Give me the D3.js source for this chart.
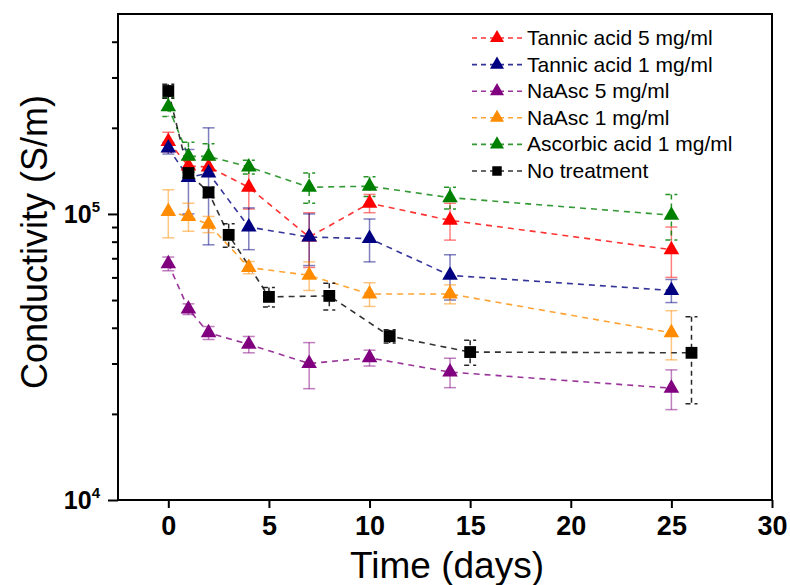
<!DOCTYPE html>
<html>
<head>
<meta charset="utf-8">
<title>Conductivity over time</title>
<script src="https://d3js.org/d3.v7.min.js"></script>
<style>
  body { margin: 0; background: #fff; }
  svg text { font-family: "Liberation Sans", Arial, sans-serif; }
  .tick-label { font-family: "Liberation Sans Narrow", "Arial Narrow", "Liberation Sans", sans-serif; font-weight: bold; }
</style>
</head>
<body>
<div id="chart"></div>
<script>
// days sampled
const daysTreated = [0, 1, 2, 4, 7, 10, 14, 25];
const daysControl = [0, 1, 2, 3, 5, 8, 11, 15, 26];

// conductivity (S/m) and error
const tannic5Val = [179000, 147000, 146000, 124000, 83000, 109000, 95000, 75000];
const tannic5Err = [14000, 7000, 8000, 20000, 18000, 8000, 14000, 15000];
const tannic1Val = [170000, 134000, 139000, 90000, 83000, 82000, 61000, 54000];
const tannic1Err = [8000, 34000, 61000, 15000, 17000, 14000, 11000, 5000];
const naasc5Val = [67000, 46500, 38400, 35000, 30000, 31400, 28000, 24600];
const naasc5Err = [3700, 2000, 2000, 2300, 5500, 2000, 3300, 3900];
const naasc1Val = [102000, 98000, 92000, 65000, 61000, 52500, 52500, 38400];
const naasc1Err = [19500, 11000, 6000, 3200, 7000, 5000, 4000, 7500];
const ascorbicVal = [237000, 159000, 159000, 146000, 124000, 125000, 114000, 99000];
const ascorbicErr = [18000, 19000, 17000, 8000, 15000, 10000, 10000, 18000];
const controlVal = [269000, 139000, 119000, 84500, 51300, 51700, 37400, 32900, 32700];
const controlErr = [15000, 5000, 5000, 8000, 4000, 5500, 2000, 3300, 11000];

const seriesNames = ["Tannic acid 5 mg/ml", "Tannic acid 1 mg/ml", "NaAsc 5 mg/ml",
  "NaAsc 1 mg/ml", "Ascorbic acid 1 mg/ml", "No treatment"];
const seriesColors = ["#ff0000", "#000080", "#800080", "#ff8c00", "#008000", "#000000"];

const xTicks = [0, 5, 10, 15, 20, 25, 30];
const yMajor = [1e4, 1e5];
const yMinor = [2e4, 3e4, 4e4, 5e4, 6e4, 7e4, 8e4, 9e4, 2e5, 3e5, 4e5];

const series = [
  { days: daysTreated, val: tannic5Val, err: tannic5Err, shape: d3.symbolTriangle, dashedErr: false },
  { days: daysTreated, val: tannic1Val, err: tannic1Err, shape: d3.symbolTriangle, dashedErr: false },
  { days: daysTreated, val: naasc5Val, err: naasc5Err, shape: d3.symbolTriangle, dashedErr: false },
  { days: daysTreated, val: naasc1Val, err: naasc1Err, shape: d3.symbolTriangle, dashedErr: false },
  { days: daysTreated, val: ascorbicVal, err: ascorbicErr, shape: d3.symbolTriangle, dashedErr: true },
  { days: daysControl, val: controlVal, err: controlErr, shape: d3.symbolSquare, dashedErr: true }
].map((s, i) => ({ ...s, name: seriesNames[i], color: seriesColors[i],
  points: s.days.map((d, j) => ({ t: d, v: s.val[j], e: s.err[j] })) }));

const W = 790, H = 585;
const plotLeft = 118, plotRight = 772, plotTop = 14, plotBottom = 500;

const svg = d3.select("#chart").append("svg")
  .attr("width", W).attr("height", H);

const x = d3.scaleLinear().domain([-2.5, 30]).range([plotLeft, plotRight]);
const y = d3.scaleLog().domain([1e4, 5e5]).range([plotBottom, plotTop]);

// x axis
const xAxis = svg.append("g")
  .attr("transform", `translate(0,${plotBottom})`)
  .call(d3.axisBottom(x).tickValues(xTicks).tickSize(8).tickPadding(8));
xAxis.select(".domain").remove();
xAxis.selectAll("line").attr("stroke-width", 2);
xAxis.selectAll("text").attr("class", "tick-label")
  .attr("font-size", 27).attr("fill", "#000");

// y axis, major and minor ticks
const yAxis = svg.append("g")
  .attr("transform", `translate(${plotLeft},0)`)
  .call(d3.axisLeft(y).tickValues(yMajor).tickSize(10).tickFormat(""));
yAxis.select(".domain").remove();
yAxis.selectAll("line").attr("stroke-width", 2);

const yMinorAxis = svg.append("g")
  .attr("transform", `translate(${plotLeft},0)`)
  .call(d3.axisLeft(y).tickValues(yMinor).tickSize(6).tickFormat(""));
yMinorAxis.select(".domain").remove();
yMinorAxis.selectAll("line").attr("stroke-width", 2);

// 10^n labels
yMajor.forEach(v => {
  const t = svg.append("text")
    .attr("class", "tick-label")
    .attr("x", 100).attr("y", y(v) + 9)
    .attr("text-anchor", "end")
    .attr("font-size", 25).attr("fill", "#000");
  t.append("tspan").text("10");
  t.append("tspan").attr("dy", -11).attr("font-size", 15).text(Math.round(Math.log10(v)));
});

// frame
svg.append("rect")
  .attr("x", plotLeft).attr("y", plotTop)
  .attr("width", plotRight - plotLeft).attr("height", plotBottom - plotTop)
  .attr("fill", "none").attr("stroke", "#000").attr("stroke-width", 2);

// axis titles
svg.append("text")
  .attr("x", 447).attr("y", 578)
  .attr("text-anchor", "middle").attr("font-size", 37)
  .text("Time (days)");
svg.append("text")
  .attr("transform", `translate(47,${242}) rotate(-90)`)
  .attr("text-anchor", "middle").attr("font-size", 36)
  .text("Conductivity (S/m)");

const line = d3.line().x(d => x(d.t)).y(d => y(d.v));
const capW = 6;

// lines
series.forEach(s => {
  svg.append("path")
    .datum(s.points)
    .attr("fill", "none")
    .attr("stroke", s.color)
    .attr("stroke-opacity", 0.8)
    .attr("stroke-width", 1.6)
    .attr("stroke-dasharray", "6,5")
    .attr("d", line);
});

// error bars
series.forEach(s => {
  const g = svg.append("g")
    .attr("stroke", s.color)
    .attr("stroke-opacity", s.dashedErr ? 0.85 : 0.5)
    .attr("stroke-width", 1.5)
    .attr("stroke-dasharray", s.dashedErr ? "5,4" : null);
  s.points.forEach(p => {
    const y1 = y(p.v + p.e), y2 = y(p.v - p.e), cx = x(p.t);
    g.append("line").attr("x1", cx).attr("x2", cx).attr("y1", y1).attr("y2", y2);
    g.append("line").attr("x1", cx - capW).attr("x2", cx + capW).attr("y1", y1).attr("y2", y1);
    g.append("line").attr("x1", cx - capW).attr("x2", cx + capW).attr("y1", y2).attr("y2", y2);
  });
});

// markers
series.forEach(s => {
  const sym = d3.symbol().type(s.shape).size(s.shape === d3.symbolSquare ? 140 : 105);
  svg.append("g").selectAll("path")
    .data(s.points)
    .join("path")
    .attr("transform", d => `translate(${x(d.t)},${y(d.v)})`)
    .attr("d", sym)
    .attr("fill", s.color);
});

// legend
const legend = svg.append("g");
series.forEach((s, i) => {
  const ly = 38 + i * 26.6;
  legend.append("line")
    .attr("x1", 472).attr("x2", 522).attr("y1", ly).attr("y2", ly)
    .attr("stroke", s.color).attr("stroke-opacity", 0.8)
    .attr("stroke-width", 1.6).attr("stroke-dasharray", "5,4");
  legend.append("path")
    .attr("transform", `translate(497,${ly})`)
    .attr("d", d3.symbol().type(s.shape).size(s.shape === d3.symbolSquare ? 90 : 85)())
    .attr("fill", s.color);
  legend.append("text")
    .attr("x", 527).attr("y", ly + 7)
    .attr("font-size", 21).attr("fill", "#000")
    .text(s.name);
});
</script>
</body>
</html>
